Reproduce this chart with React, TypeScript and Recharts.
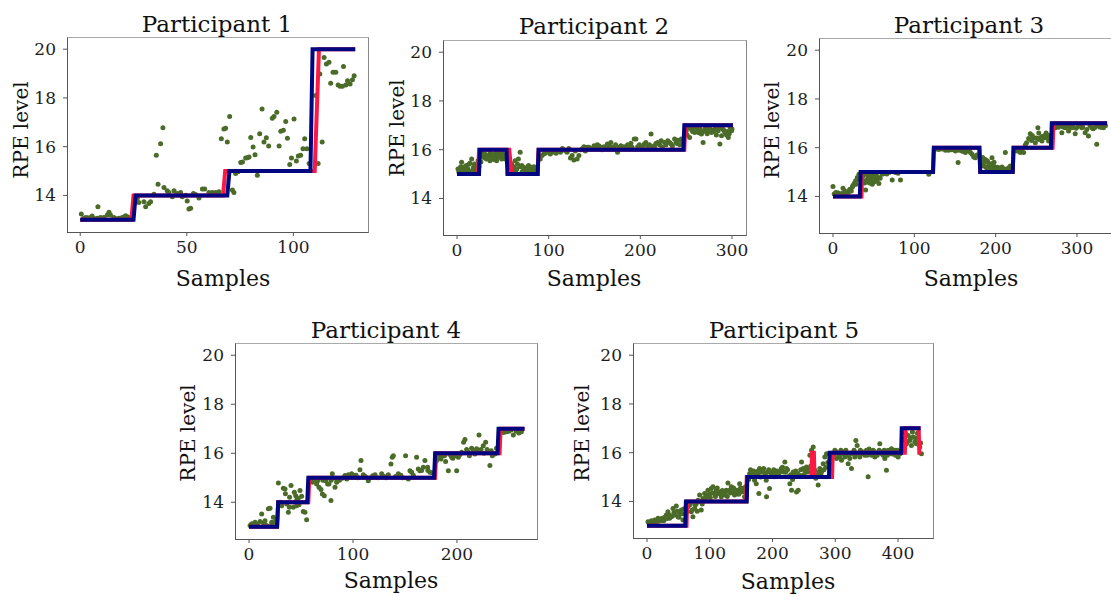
import { ComposedChart, XAxis, YAxis, Scatter, Line } from 'recharts';

type Pt = [number, number];

// RPE levels shared by all panels
const Y_DOMAIN: [number, number] = [12.5, 20.5];
const Y_TICKS = [14, 16, 18, 20];

// ---- Participant 1 ----
const p1Ticks = [0, 50, 100];
const p1Truth: Pt[] = [[0, 13], [25, 13], [26, 14], [69, 14], [70, 15], [108, 15], [109, 20], [129, 20]];
const p1Pred: Pt[] = [[0, 13], [24, 13], [25, 14], [67, 14], [68, 15], [110, 15], [112, 20], [129, 20]];
const p1Scatter: Pt[] = [
  [0.5, 13.24], [1.5, 13.05], [2.5, 13.1], [3.5, 13.08], [4.9, 13.1], [5.6, 13.16], [6.5, 13.05], [8, 13.06],
  [8.3, 13.54], [9.5, 13.1], [11.1, 13.09], [12.7, 13.2], [13.5, 13.31], [14.2, 13.2], [15.8, 13.1], [16.5, 13.05],
  [18.2, 13.06], [19.7, 13.1], [20.5, 13.12], [21.3, 13.17], [22.1, 13.13], [23.6, 13.1],
  [26.8, 13.88], [27.5, 13.71], [29.9, 13.74], [30.7, 13.54], [32.2, 13.67], [33, 13.74], [34.6, 14.05],
  [35.7, 15.65], [36.5, 14.46], [37.7, 16.12], [38.8, 16.78], [39.3, 14.33], [40.8, 14.19], [41.6, 14.12],
  [43.2, 13.95], [44, 14.19], [45.5, 14.08], [47.1, 14.12], [47.9, 13.95], [49.5, 14.01], [50.2, 13.77],
  [51, 13.44], [51.8, 13.47], [53.1, 14.08], [54.1, 14.04], [55.7, 13.9], [57.3, 14.26], [58.4, 14.26],
  [60.4, 14.12], [62, 14.12], [63.5, 14.12], [65.1, 14.15], [66.2, 16.33], [67.4, 16.73], [68.2, 16.76],
  [69, 16.19], [70.1, 17.24],
  [71.4, 14.22], [72.1, 14.12], [72.9, 14.9], [74, 14.97], [75.3, 15.35], [76.1, 15.37], [77.6, 15.54],
  [78.4, 15.55], [79.2, 15.58], [80, 16.38], [81.1, 15.99], [82, 15.67], [83.1, 14.83], [84.2, 16.53],
  [85.3, 17.55], [86.2, 16.19], [87.3, 16.37], [88.4, 16.03], [90.1, 17.17], [90.9, 17.24], [92.2, 17.41],
  [93.3, 16.03], [94.1, 16.63], [95.3, 16.67], [96.4, 17.03], [97.2, 16.35], [98.3, 15.27], [99.1, 15.54],
  [100.3, 17.14], [101.4, 15.41], [102.3, 15.62], [103.4, 15.65], [104.5, 15.92], [105.3, 16.33],
  [106.3, 15.92], [107.4, 15.31],
  [110.5, 18.1], [111.6, 15.31], [112.4, 18.98], [113.5, 16.19], [114.4, 19.66], [115.5, 19.39],
  [116.7, 19.46], [117.5, 18.6], [118.6, 19.05], [119.9, 19.05], [121, 18.53], [121.9, 18.48],
  [123, 18.48], [123.5, 19.29], [124.6, 18.53], [125.4, 18.71], [126.6, 18.57], [127.7, 18.75], [128.5, 18.91],
];

// ---- Participant 2 ----
const p2Ticks = [0, 100, 200, 300];
const p2Truth: Pt[] = [[0, 15], [24, 15], [25, 16], [54, 16], [55, 15], [88, 15], [89, 16], [247, 16], [248, 17], [301, 17]];
const p2Pred: Pt[] = [[0, 15], [23, 15], [24, 16], [57, 16], [59.5, 15], [88, 15], [89, 16], [248, 16], [249, 17], [301, 17]];
const p2Scatter: Pt[] = [
  [1, 15.21], [2, 15.08], [3, 15.14], [4, 15.3], [5, 15.48], [6, 15.1], [7, 15.28], [8, 15.14], [9, 15.25],
  [10, 15.35], [11, 15.12], [12, 15.21], [13, 15.4], [14, 15.44], [15, 15.1], [16, 15.62], [17, 15.15],
  [18, 15.28], [19, 15.41], [20, 15.2], [21, 15.14], [22, 15.3], [23, 15.55], [24, 15.3],
  [26, 15.5], [27, 15.9], [28.6, 15.69], [29, 15.78], [30.4, 15.82], [31, 15.65], [32.2, 15.62], [33, 15.7],
  [34.1, 15.75], [35.9, 15.55], [36, 15.85], [37.7, 15.69], [38, 15.8], [39.6, 15.75], [40, 15.6], [41.4, 15.82],
  [42, 15.65], [43.2, 15.55], [44, 15.9], [45, 15.78], [45.1, 15.69], [46.9, 15.82], [47, 15.7], [48.7, 15.62],
  [49, 15.85], [50.5, 15.75], [51, 15.7], [52.4, 15.62], [53, 15.8],
  [56, 15.6], [57.9, 15.28], [58, 15.45], [59.7, 15.41], [60, 15.2], [61.5, 15.14], [62, 15.3], [63.4, 15.55],
  [64, 15.1], [65.2, 15.21], [66, 15.4], [67, 15.62], [68.9, 15.89], [69, 15.3], [70.7, 15.35], [71, 15.1],
  [72.5, 15.28], [73, 15.2], [74.4, 15.14], [75, 15.25], [76.2, 15.21], [77, 15.08], [78, 15.35], [79.9, 15.14],
  [80, 15.25], [81.7, 15.28], [82, 15.1], [83.5, 15.14], [84, 15.3], [85.3, 15.21], [86, 15.08], [87, 15.15],
  [90.8, 15.62], [92.7, 15.76], [94.5, 15.82], [96, 15.85], [98.2, 15.89], [100, 15.95], [101.8, 15.82],
  [104, 15.9], [105.5, 15.96], [108, 15.85], [109.2, 15.96], [111, 15.95], [112.8, 15.89], [115, 16.05],
  [116.5, 15.99], [119, 15.95], [120.1, 15.89], [122, 16.05], [123.8, 15.66], [125.6, 15.76], [127.5, 15.58],
  [129, 15.95], [131.1, 15.62], [133, 15.76], [135, 16.0], [137, 16.05], [138.5, 16.12], [140, 15.95],
  [142.1, 16.1], [144, 16.1], [145.8, 16.03], [148, 16.05], [149.5, 16.16], [151, 16.08], [153.1, 16.2],
  [155, 16.15], [156.8, 16.1], [158, 16.0], [160.4, 16.12], [162, 16.05], [164.1, 16.23], [166, 16.15],
  [167.8, 16.3], [170, 16.1], [171.4, 16.1], [173, 16.2], [175.1, 15.89], [177, 16.1], [178.8, 16.16],
  [181, 16.05], [182.4, 16.12], [185, 16.05], [186.1, 16.2], [188, 16.15], [189.7, 16.26], [191, 16.1],
  [193.4, 16.44], [195.2, 16.44], [197.1, 16.12], [199, 16.2], [200, 16.1], [200.7, 16.1], [203, 16.1],
  [204.4, 16.23], [206, 16.3], [208.1, 16.16], [210, 16.2], [211.7, 16.64], [213, 16.1], [215, 16.15],
  [215.4, 16.12], [217, 16.25], [219, 16.3], [221, 16.2], [222.7, 16.37], [224, 16.1], [226.4, 16.3],
  [228, 16.2], [230, 16.37], [232, 16.3], [233.7, 16.23], [235, 16.15], [237.4, 16.44], [239, 16.3],
  [240, 16.25], [241, 16.39], [243, 16.2], [244.7, 16.44], [246, 16.35],
  [250.2, 16.78], [251, 16.6], [252, 16.9], [253.8, 16.5], [255.7, 16.84], [257, 16.75], [258, 16.9],
  [259.3, 16.71], [261, 16.9], [263, 16.78], [264, 16.7], [265, 16.85], [266.7, 16.64], [268.5, 16.3],
  [269, 16.75], [270.3, 16.84], [272, 16.9], [273, 16.65], [274, 16.78], [276, 16.85], [277.7, 16.71],
  [279, 16.8], [280, 16.75], [281.3, 16.84], [283, 16.6], [284, 16.9], [285, 16.78], [286.8, 16.23],
  [287, 16.9], [288.6, 16.57], [290, 16.85], [291, 16.8], [292.3, 16.71], [294, 16.6], [295, 16.75],
  [296, 16.5], [297, 16.65], [298, 16.9], [299.6, 16.78], [300, 16.85],
];

// ---- Participant 3 ----
const p3Ticks = [0, 100, 200, 300];
const p3Truth: Pt[] = [[0, 14], [33, 14], [34, 15], [123, 15], [124, 16], [180, 16], [181, 15], [221, 15], [222, 16], [268, 16], [269, 17], [337, 17]];
const p3Pred: Pt[] = [[0, 14], [35, 14], [36, 15], [123, 15], [124, 16], [180, 16], [181, 15], [221, 15], [222, 16], [270, 16], [271, 17], [337, 17]];
const p3Scatter: Pt[] = [
  [0, 14.41], [1.5, 14.1], [3.3, 14.16], [4, 14.05], [5, 14.08], [6, 14.15], [7.4, 14.12], [8.5, 14.08],
  [10, 14.05], [11, 14.12], [12.3, 14.34], [13.5, 14.1], [14.5, 14.22], [15.5, 14.16], [17, 14.08], [18, 14.15],
  [19.6, 14.2], [20.5, 14.28], [21.7, 14.3], [22.5, 14.22], [23.7, 14.39], [24.5, 14.45], [25.8, 14.5],
  [26.5, 14.55], [27.8, 14.64], [28.5, 14.5], [29.9, 14.78], [30.5, 14.7], [31.9, 14.91], [32.5, 14.85],
  [37, 14.85], [38, 14.64], [39, 14.55], [40.1, 14.26], [41, 14.9], [42.1, 14.71], [43, 14.6], [44.2, 14.84],
  [45, 14.55], [46.2, 14.8], [47, 14.7], [48.3, 14.5], [49, 14.85], [50.3, 14.8], [51, 14.6], [52.4, 14.64],
  [53, 14.9], [54.4, 14.71], [55, 14.8], [56.4, 14.53], [58, 14.75], [60.5, 14.91], [62.6, 14.94], [64.6, 14.98],
  [66, 14.92], [68.7, 14.98], [72.8, 14.67], [76.9, 14.98], [80, 14.95], [83, 14.67], [117.8, 14.91],
  [127, 15.95], [130, 15.93], [134, 15.95], [138.2, 15.9], [142, 15.9], [146, 15.92], [150.5, 15.86],
  [153.8, 15.39], [155, 15.9], [158.7, 15.86], [160, 15.85], [162.8, 15.8], [165, 15.88], [166.9, 15.89],
  [169, 15.8], [171, 15.73], [173, 15.62], [175, 15.59], [177, 15.7],
  [182, 15.3], [183.2, 15.46], [184, 15.6], [185.3, 15.25], [186, 15.4], [187.3, 15.52], [188, 15.2],
  [189.4, 15.18], [190, 15.45], [191.4, 15.35], [192, 15.22], [193.5, 15.32], [194, 15.15], [195.5, 15.59],
  [196, 15.35], [197.5, 15.25], [198, 15.4], [199.6, 15.16], [200, 15.12], [201, 15.1], [202, 15.2],
  [203.7, 15.18], [205, 15.12], [206, 15.15], [207.8, 15.21], [209, 15.1], [210, 15.14], [211.9, 15.8],
  [213, 15.12], [214, 15.1], [216, 15.18], [217, 15.12], [218, 15.25], [219, 15.15], [220, 15.1],
  [224, 15.9], [226.2, 15.86], [228, 15.95], [230.3, 15.8], [232, 15.92], [234.4, 15.8], [236.4, 16.11],
  [238, 16.2], [240.5, 16.38], [242.5, 16.57], [244, 16.3], [245, 16.5], [246.6, 16.41], [248.7, 16.2],
  [250, 16.4], [251.9, 16.82], [252.8, 16.34], [253, 16.6], [254.8, 16.41], [256.9, 16.27], [257, 16.45],
  [258.9, 16.48], [260.9, 16.41], [262, 16.6], [263, 16.44], [264, 16.5], [265, 16.27], [266, 16.5], [267.1, 16.34],
  [271, 16.9], [273.2, 16.82], [275, 16.88], [277.3, 16.84], [279, 16.92], [281.4, 16.61], [283, 16.85],
  [285.5, 16.82], [287, 16.9], [289.6, 16.68], [291, 16.85], [293.7, 16.82], [295, 16.9], [297.8, 16.57],
  [299, 16.8], [301.8, 16.88], [303, 16.92], [305.9, 16.82], [307, 16.85], [310, 16.61], [312.1, 16.75],
  [314.1, 16.48], [316, 16.9], [318.2, 16.82], [320, 16.78], [322.3, 16.84], [324.3, 16.14], [326, 16.9],
  [328.4, 16.84], [330, 16.85], [332.5, 16.82], [335, 16.9],
];

// ---- Participant 4 ----
const p4Ticks = [0, 100, 200];
const p4Truth: Pt[] = [[0, 13], [27, 13], [28, 14], [56, 14], [57, 15], [178, 15], [179, 16], [239, 16], [240, 17], [265, 17]];
const p4Pred: Pt[] = [[0, 13], [27, 13], [28, 14], [57, 14], [58, 15], [179, 15], [180, 16], [241, 16], [242, 17], [265, 17]];
const p4Scatter: Pt[] = [
  [1, 13.05], [2.6, 13.12], [4, 13.08], [5.8, 13.18], [8, 13.1], [10.6, 13.21], [12.2, 13.52], [14, 13.15],
  [15.4, 13.25], [17, 13.05], [18.6, 13.73], [20.2, 13.76], [21.8, 13.18], [22, 13.1], [23.4, 13.39],
  [25, 13.18], [26, 13.3],
  [28.2, 14.79], [30, 14.0], [31.4, 13.86], [33, 14.57], [34.6, 14.54], [35, 14.35], [36.2, 13.93],
  [37.8, 13.59], [38.8, 13.8], [39, 14.2], [40.4, 14.68], [42.6, 13.8], [43.6, 14.41], [44.9, 14.27],
  [45.8, 13.86], [46, 14.1], [47.4, 14.16], [48, 13.9], [49, 14.48], [50.6, 14.24], [52.2, 13.62],
  [53.8, 13.59], [55.4, 13.29],
  [58.7, 14.88], [59, 14.9], [60.9, 14.82], [62, 14.95], [63.5, 14.93], [65, 14.75], [66, 14.88], [67.3, 14.61],
  [69.2, 14.52], [70.5, 14.34], [71, 14.9], [72.4, 14.27], [73.7, 14.88], [74, 14.95], [75.6, 14.75],
  [76.9, 14.75], [78.8, 14.07], [79, 14.9], [80.1, 15.16], [82.7, 14.61], [83, 14.98], [84.3, 14.82],
  [85.9, 14.93], [87, 14.9], [89.1, 14.98], [91, 15.0], [92.3, 15.09], [94, 14.95], [95.5, 15.12], [97, 15.05],
  [98.7, 15.16], [100, 15.02], [101.9, 15.09], [103, 15.1], [105, 15.0], [106.7, 15.33], [107.7, 15.7],
  [109.9, 15.12], [112, 15.05], [114.7, 14.88], [117, 15.0], [119, 15.08], [121.2, 15.12], [124, 15.0],
  [127.6, 15.16], [130, 15.05], [132, 15.0], [134, 15.12], [136.5, 15.56], [137.8, 15.84], [138.8, 15.9],
  [141, 15.05], [143.6, 15.16], [146, 15.1], [148, 15.0], [150.6, 15.9], [153.2, 14.95], [154.8, 15.29],
  [156.4, 15.22], [158, 15.1], [161.2, 15.84], [162.8, 15.36], [164.4, 15.29], [166, 15.3], [167.6, 15.43],
  [169.2, 15.7], [171.8, 15.43], [172, 15.3], [174, 15.22], [176, 15.2],
  [180.4, 15.7], [181, 15.95], [182.7, 15.84], [184.6, 15.77], [185, 15.95], [186.9, 15.9], [188, 15.9],
  [189.1, 15.66], [191.7, 15.29], [193, 15.95], [194.9, 15.84], [196, 15.8], [198.1, 15.9], [199.7, 15.29],
  [201.3, 15.84], [203, 15.95], [204.5, 16.04], [206.4, 16.45], [207.7, 16.56], [209.3, 16.15], [210.9, 16.04],
  [212, 15.9], [214.1, 16.2], [216, 16.1], [217.3, 15.97], [218.9, 16.18], [220, 16.05], [221.2, 16.75],
  [223.1, 16.15], [225.3, 16.31], [226, 16.0], [227.6, 16.45], [229, 16.15], [231.7, 15.5], [233, 16.1],
  [234, 15.9], [236.5, 15.97], [238, 16.2],
  [243, 16.93], [245, 16.85], [247.8, 16.88], [250, 16.9], [252, 16.95], [254.2, 16.75], [257, 16.9],
  [259.6, 16.83], [262, 16.88],
];

// ---- Participant 5 ----
const p5Ticks = [0, 100, 200, 300, 400];
const p5Truth: Pt[] = [[0, 13], [61, 13], [62, 14], [159, 14], [160, 15], [290, 15], [291, 16], [405, 16], [406, 17], [436, 17]];
const p5Pred: Pt[] = [[0, 13], [63, 13], [64, 14], [158, 14], [159, 15], [262, 15], [263, 16], [266, 16], [267, 15], [295, 15], [296, 16], [411, 16], [412, 17], [433, 17], [434, 16], [436, 16]];
const p5Scatter: Pt[] = [
  [1.6, 13.17], [3, 13.12], [4, 13.1], [6.9, 13.21], [8, 13.15], [9, 13.12], [11, 13.18], [12.2, 13.24],
  [14, 13.2], [15, 13.15], [17.5, 13.31], [19, 13.25], [20, 13.2], [22.8, 13.28], [24, 13.3], [25, 13.22],
  [27, 13.22], [28.1, 13.35], [30.8, 13.44], [32, 13.3], [33.4, 13.58], [35, 13.45], [36.1, 13.31],
  [38.7, 13.37], [40, 13.4], [41.4, 13.71], [43, 13.55], [44.1, 13.44], [46.7, 13.81], [48, 13.6],
  [49.4, 13.37], [51, 13.35], [52, 13.51], [54.7, 13.65], [56, 13.5], [57.3, 13.24], [59, 13.7],
  [64, 13.6], [65.3, 13.78], [67.9, 13.85], [69, 13.9], [70.6, 13.58], [72, 13.65], [73.2, 13.37],
  [75.9, 13.71], [77, 13.85], [78.6, 13.92], [80, 13.6], [81.2, 14.05], [83.9, 14.26], [85, 14.0],
  [86.5, 13.65], [88, 13.9], [89.2, 14.12], [91.8, 14.33], [93, 14.1], [94.5, 14.19], [96, 14.25],
  [97.1, 14.46], [99.8, 14.3], [101, 14.15], [102.4, 14.53], [104, 14.35], [105.1, 14.6], [107.7, 14.33],
  [109, 14.2], [110.4, 14.46], [112, 14.55], [113.1, 14.33], [115.7, 14.39], [117, 14.3], [118.4, 14.19],
  [120, 14.45], [121, 14.33], [123.7, 14.26], [125, 14.35], [126.3, 14.46], [128, 14.2], [129, 14.76],
  [131.6, 14.46], [133, 14.35], [134.3, 14.6], [136.9, 14.39], [138, 14.55], [139.6, 14.26], [141, 14.35],
  [142.3, 14.46], [144.9, 14.46], [146, 14.3], [147.6, 14.73], [149, 14.55], [150.2, 14.39], [152.9, 14.53],
  [154, 14.4], [155.5, 14.19], [157, 14.6],
  [162, 14.9], [163.5, 15.14], [165, 15.3], [166.1, 15.21], [168.8, 15.07], [170, 15.25], [171.4, 14.87],
  [173, 15.1], [174.1, 14.73], [176.8, 15.14], [177, 15.25], [178.3, 14.33], [179.4, 15.35], [181, 15.0],
  [182.1, 15.21], [184.7, 15.28], [186, 15.35], [187.4, 15.07], [189, 15.15], [190, 14.87], [190.5, 14.19],
  [192.7, 15.21], [194, 15.3], [195.3, 14.53], [197, 15.2], [198, 15.07], [200.6, 15.21], [202, 15.3],
  [203.3, 15.01], [205.9, 15.14], [207, 15.25], [210, 15.1], [211.3, 15.21], [213.9, 15.35], [214.4, 15.28],
  [216, 15.4], [217.1, 15.21], [219.7, 15.62], [221, 15.2], [222.4, 15.35], [224, 15.3], [225, 15.01],
  [227.7, 14.73], [229, 15.1], [230.4, 14.46], [232, 14.9], [233, 15.21], [235.7, 15.07], [237, 15.25],
  [238.3, 14.39], [240, 15.15], [241, 14.46], [243.6, 15.07], [245, 15.3], [246.3, 15.62], [248.9, 15.35],
  [250, 15.1], [251.6, 15.28], [253, 15.2], [254.2, 15.41], [256.9, 15.21], [258, 15.3], [259.6, 15.89],
  [261, 15.45], [262.2, 16.1], [264.9, 16.23], [267.5, 15.28], [269, 14.95], [270.2, 15.07], [272.8, 14.67],
  [274, 15.2], [275.5, 15.35], [277, 15.1], [278.1, 15.21], [280.8, 15.55], [282, 15.3], [283.4, 15.82],
  [285, 15.4], [286.1, 15.96], [288, 15.6],
  [293, 15.6], [294.1, 15.76], [296.7, 15.89], [298, 15.95], [299.4, 16.1], [301, 16.05], [302.1, 15.76],
  [304.7, 15.96], [306, 15.9], [307.3, 15.82], [309, 16.1], [310, 15.69], [312.7, 16.03], [314, 15.95],
  [315.3, 15.82], [317, 16.1], [318, 15.89], [320.6, 15.55], [322, 15.9], [323.2, 15.76], [325.9, 15.35],
  [327, 16.0], [328.6, 15.96], [330, 16.1], [331.2, 15.82], [332.8, 16.5], [334.9, 16.3], [336, 15.95],
  [339.1, 15.82], [340, 16.1], [341.8, 15.96], [344.5, 16.03], [346, 15.95], [347.1, 15.89], [349.8, 16.1],
  [351, 15.9], [352.4, 15.01], [354, 16.15], [355.1, 16.03], [357.7, 15.89], [359, 15.95], [360.4, 16.1],
  [362, 16.05], [363, 15.82], [365.7, 15.96], [367, 15.9], [370, 16.1], [371, 16.37], [373.7, 16.03],
  [375, 15.95], [376.3, 15.89], [378, 16.1], [379, 15.76], [381.6, 15.28], [383, 15.9], [384.3, 16.1],
  [386.9, 15.96], [388, 16.05], [389.6, 16.16], [391, 15.95], [392.2, 16.03], [394.9, 16.1], [396, 15.9],
  [397.6, 16.03], [399, 16.1], [400.2, 15.82], [402.9, 15.96], [404, 16.0],
  [408, 16.5], [410.8, 16.57], [412, 16.8], [413.5, 16.37], [415, 16.45], [416.1, 16.71], [418.8, 16.5],
  [420, 16.6], [421.4, 16.3], [423, 16.85], [424.1, 16.64], [426.8, 16.44], [428, 16.6], [429.4, 16.37],
  [431, 16.8], [432.1, 16.57], [434.7, 16.23], [436, 16.4], [437.4, 15.96],
];

const FONT = '"DejaVu Serif", serif';
const GREEN = '#4b6b28';
const NAVY = '#000580';
const RED = '#ff1744';

const Y_AXIS_W = 50;
const X_AXIS_H = 34;
const PAD = 4;

interface PanelSpec {
  title: string;
  box: [number, number, number, number]; // left, top, right, bottom on the page
  xDomain: [number, number];
  xTicks: number[];
  scatter: Pt[];
  truth: Pt[];
  pred: Pt[];
  titleAt: [number, number];
  xLabelAt: [number, number];
  yLabelAt: [number, number];
}

const PANELS: PanelSpec[] = [
  { title: 'Participant 1', box: [67, 37, 368, 232], xDomain: [-6.2, 135], xTicks: p1Ticks,
    scatter: p1Scatter, truth: p1Truth, pred: p1Pred, titleAt: [217, 24], xLabelAt: [223, 279], yLabelAt: [21, 130] },
  { title: 'Participant 2', box: [443, 40, 746, 235], xDomain: [-15.3, 315.3], xTicks: p2Ticks,
    scatter: p2Scatter, truth: p2Truth, pred: p2Pred, titleAt: [594, 26], xLabelAt: [594, 279], yLabelAt: [397, 128] },
  { title: 'Participant 3', box: [819, 38, 1121, 233], xDomain: [-17.2, 354.1], xTicks: p3Ticks,
    scatter: p3Scatter, truth: p3Truth, pred: p3Pred, titleAt: [969, 25], xLabelAt: [971, 279], yLabelAt: [772, 130] },
  { title: 'Participant 4', box: [235, 343, 537, 539], xDomain: [-13.5, 277], xTicks: p4Ticks,
    scatter: p4Scatter, truth: p4Truth, pred: p4Pred, titleAt: [386, 330], xLabelAt: [391, 581], yLabelAt: [188, 433] },
  { title: 'Participant 5', box: [633, 343, 933, 538], xDomain: [-22.3, 455.8], xTicks: p5Ticks,
    scatter: p5Scatter, truth: p5Truth, pred: p5Pred, titleAt: [784, 330], xLabelAt: [788, 582], yLabelAt: [582, 433] },
];

const rows = (pts: Pt[]) => pts.map(([x, y]) => ({ x, y }));

const tickStyle = { fontFamily: FONT, fontSize: 17, fill: '#1e1e1e' };

function Dot(props: any) {
  const { cx, cy } = props;
  if (cx == null || cy == null) return null;
  return <circle cx={cx} cy={cy} r={2.5} fill={GREEN} />;
}

function Label({ text, at, size, rotate }: { text: string; at: [number, number]; size: number; rotate?: boolean }) {
  return (
    <div
      style={{
        position: 'absolute',
        left: at[0] - 150,
        top: at[1] - size * 0.48,
        width: 300,
        height: size,
        lineHeight: `${size}px`,
        fontSize: size,
        fontFamily: FONT,
        color: '#111',
        textAlign: 'center',
        whiteSpace: 'nowrap',
        transform: rotate ? 'rotate(-90deg)' : undefined,
      }}
    >
      {text}
    </div>
  );
}

// the scatter sits in a chart underneath, the step lines in an identical one stacked on top,
// so the navy truth line covers the dots as in the original figure
function Axes({ spec, bare }: { spec: PanelSpec; bare?: boolean }) {
  return (
    <>
      <XAxis
        type="number"
        dataKey="x"
        domain={spec.xDomain}
        ticks={spec.xTicks}
        interval={0}
        allowDataOverflow
        height={X_AXIS_H}
        axisLine={false}
        tickLine={bare ? false : { stroke: '#555' }}
        tickSize={4}
        tickMargin={5}
        tick={bare ? false : tickStyle}
      />
      <YAxis
        type="number"
        dataKey="y"
        domain={Y_DOMAIN}
        ticks={Y_TICKS}
        interval={0}
        allowDataOverflow
        width={Y_AXIS_W}
        axisLine={false}
        tickLine={bare ? false : { stroke: '#555' }}
        tickSize={4}
        tickMargin={7}
        tick={bare ? false : tickStyle}
      />
    </>
  );
}

function Panel({ spec }: { spec: PanelSpec }) {
  const [l, t, r, b] = spec.box;
  const plotW = r - l;
  const plotH = b - t;
  const size = {
    width: Y_AXIS_W + plotW + PAD,
    height: PAD + plotH + X_AXIS_H,
    margin: { top: PAD, right: PAD, bottom: 0, left: 0 },
  };
  const pos = { position: 'absolute' as const, left: l - Y_AXIS_W, top: t - PAD };
  return (
    <>
      <div style={pos}>
        <ComposedChart {...size}>
          {Axes({ spec })}
          <Scatter data={rows(spec.scatter)} fill={GREEN} shape={Dot} isAnimationActive={false} />
        </ComposedChart>
      </div>
      <div style={pos}>
        <ComposedChart {...size}>
          {Axes({ spec, bare: true })}
          <Line
            data={rows(spec.pred)}
            dataKey="y"
            type="linear"
            stroke={RED}
            strokeWidth={4}
            dot={false}
            activeDot={false}
            isAnimationActive={false}
          />
          <Line
            data={rows(spec.truth)}
            dataKey="y"
            type="linear"
            stroke={NAVY}
            strokeWidth={4}
            strokeLinejoin="miter"
            dot={false}
            activeDot={false}
            isAnimationActive={false}
          />
        </ComposedChart>
      </div>
      <div
        style={{
          position: 'absolute',
          left: l,
          top: t,
          width: plotW - 1,
          height: plotH - 1,
          borderTop: '1px solid #aaa',
          borderRight: '1px solid #888',
          borderLeft: '1px solid #555',
          borderBottom: '1px solid #555',
          pointerEvents: 'none',
        }}
      />
      <Label text={spec.title} at={spec.titleAt} size={23} />
      <Label text="Samples" at={spec.xLabelAt} size={22} />
      <Label text="RPE level" at={spec.yLabelAt} size={20} rotate />
    </>
  );
}

export default function App() {
  return (
    <div
      style={{
        position: 'absolute',
        left: 0,
        top: 0,
        width: 1111,
        height: 597,
        overflow: 'hidden',
        background: '#fff',
      }}
    >
      {PANELS.map((p) => (
        <Panel key={p.title} spec={p} />
      ))}
    </div>
  );
}
